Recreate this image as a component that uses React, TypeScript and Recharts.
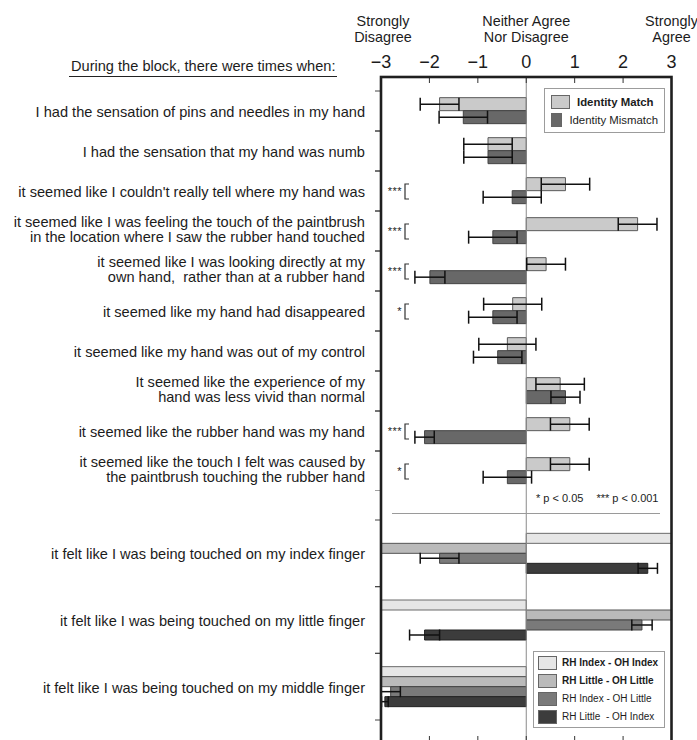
import React from 'react';
import { BarChart, Bar, XAxis, YAxis, ErrorBar, ReferenceLine, Legend } from 'recharts';

// ---------- data ----------
const statements = [
  'I had the sensation of pins and needles in my hand',
  'I had the sensation that my hand was numb',
  "it seemed like I couldn't really tell where my hand was",
  'it seemed like I was feeling the touch of the paintbrush\nin the location where I saw the rubber hand touched',
  'it seemed like I was looking directly at my\nown hand,  rather than at a rubber hand',
  'it seemed like my hand had disappeared',
  'it seemed like my hand was out of my control',
  'It seemed like the experience of my\nhand was less vivid than normal',
  'it seemed like the rubber hand was my hand',
  'it seemed like the touch I felt was caused by\nthe paintbrush touching the rubber hand',
];
const significance = ['', '', '***', '***', '***', '*', '', '', '***', '*'];
const matchMean = [-1.79, -0.79, 0.81, 2.3, 0.41, -0.28, -0.39, 0.7, 0.9, 0.9];
const matchErr = [0.4, 0.5, 0.5, 0.4, 0.4, 0.6, 0.59, 0.5, 0.4, 0.4];
const mismatchMean = [-1.3, -0.79, -0.29, -0.69, -1.99, -0.69, -0.59, 0.81, -2.1, -0.39];
const mismatchErr = [0.5, 0.5, 0.6, 0.5, 0.31, 0.5, 0.5, 0.3, 0.2, 0.5];
const blockSeries = ['Identity Match', 'Identity Mismatch'];

const fingerItems = [
  'it felt like I was being touched on my index finger',
  'it felt like I was being touched on my little finger',
  'it felt like I was being touched on my middle finger',
];
const rhIndexOhIndex = [3, -3, -3];
const rhLittleOhLittle = [-3, 3, -3];
const rhIndexOhLittle = [-1.79, 2.39, -2.8];
const rhIndexOhLittleErr = [0.4, 0.21, 0.2];
const rhLittleOhIndex = [2.51, -2.1, -2.92];
const rhLittleOhIndexErr = [0.2, 0.31, 0.07];
const fingerSeries = ['RH Index - OH Index', 'RH Little - OH Little', 'RH Index - OH Little', 'RH Little  - OH Index'];

const scaleTicks = [-3, -2, -1, 0, 1, 2, 3];
const scaleAnchors: Record<string, string[]> = {
  '-3': ['Strongly', 'Disagree'],
  '0': ['Neither Agree', 'Nor Disagree'],
  '3': ['Strongly', 'Agree'],
};
const headerText = 'During the block, there were times when:';
const pNotes = ['* p < 0.05', '*** p < 0.001'];

const blockData = statements.map((s, i) => ({
  statement: s,
  match: matchMean[i],
  matchErr: matchErr[i],
  mismatch: mismatchMean[i],
  mismatchErr: mismatchErr[i],
}));
const fingerData = fingerItems.map((s, i) => ({
  item: s,
  ii: rhIndexOhIndex[i],
  ll: rhLittleOhLittle[i],
  il: rhIndexOhLittle[i],
  ilErr: rhIndexOhLittleErr[i],
  li: rhLittleOhIndex[i],
  liErr: rhLittleOhIndexErr[i],
}));

// ---------- styles ----------
const FONT = '"Liberation Sans", Arial, Helvetica, sans-serif';
const TEXT = '#1c1c1c';

const CategoryTick = (props: any) => {
  const { x, y, payload, index, sigs, fallbackHalf } = props;
  const half = payload && typeof payload.offset === 'number' && payload.offset > 0 ? payload.offset : fallbackHalf;
  const lines = String(payload.value).split('\n');
  const lh = 15;
  const startY = y + 1 - ((lines.length - 1) * lh) / 2 - (lines.length > 1 ? 3 : 0);
  const sig = sigs ? sigs[index] : '';
  return (
    <g>
      <line x1={x + 10} x2={x + 16} y1={y - half} y2={y - half} stroke="#444" strokeWidth={1} />
      <line x1={x + 10} x2={x + 16} y1={y + half} y2={y + half} stroke="#444" strokeWidth={1} />
      <text x={x} y={startY} textAnchor="end" dominantBaseline="central" fontSize={14.6} fill={TEXT} style={{ whiteSpace: 'pre' }}>
        {lines.map((l, i) => (
          <tspan key={i} x={x} dy={i === 0 ? 0 : lh}>
            {l}
          </tspan>
        ))}
      </text>
      {sig ? (
        <text x={x + 37} y={y + 4} textAnchor="end" fontSize={11} fill={TEXT} letterSpacing={0.5}>
          {sig}
        </text>
      ) : null}
      {sig ? (
        <path d={`M${x + 44},${y - 7} H${x + 40} V${y + 8} H${x + 44}`} stroke="#333" strokeWidth={1.2} fill="none" />
      ) : null}
    </g>
  );
};

const ScaleTick = (props: any) => {
  const { x, y, payload } = props;
  const v = payload.value;
  const anchor = scaleAnchors[String(v)];
  const label = v < 0 ? `\u2212${Math.abs(v)}` : String(v);
  return (
    <g>
      {anchor
        ? anchor.map((t, i) => (
            <text key={i} x={x + (v < 0 ? 2 : 0)} y={y - 51 + i * 15.5} textAnchor="middle" fontSize={14.4} fill={TEXT}>
              {t}
            </text>
          ))
        : null}
      <text x={x} y={y - 9} textAnchor="middle" fontSize={18} fill={TEXT}>
        {label}
      </text>
    </g>
  );
};

const EmptyTick = () => <g />;

const makeLegend = (order: string[], boldCount: number, rowH: number, pad: string, fontSize: number, sw: number, sh: number, gap: number) =>
  (props: any) => {
    const items = [...(props.payload || [])].sort(
      (a: any, b: any) => order.indexOf(String(a.value)) - order.indexOf(String(b.value))
    );
    return (
      <div style={{ border: '1px solid #9c9c9c', background: '#fff', padding: pad, boxSizing: 'border-box', fontFamily: FONT }}>
        {items.map((it: any, i: number) => (
          <div key={i} style={{ display: 'flex', alignItems: 'center', height: rowH }}>
            <span
              style={{
                display: 'inline-block',
                width: sw,
                height: sh,
                background: it.color,
                border: '1px solid #666',
                boxSizing: 'border-box',
                marginRight: gap,
              }}
            />
            <span style={{ fontSize, fontWeight: i < boldCount ? 700 : 400, color: TEXT, whiteSpace: 'pre' }}>{it.value}</span>
          </div>
        ))}
      </div>
    );
  };

const legendA = makeLegend(blockSeries, 1, 18, '3.5px 6px', 11.4, 19, 14, 7);
const legendB = makeLegend(fingerSeries, 2, 18, '1.5px 4px', 10, 19, 14, 5);

export default function App() {
  return (
    <div
      style={{
        position: 'absolute',
        left: 0,
        top: 0,
        width: 697,
        height: 740,
        overflow: 'hidden',
        background: '#fff',
        fontFamily: FONT,
      }}
    >
      <div style={{ position: 'absolute', left: 0, top: 0 }}>
        <BarChart
          width={697}
          height={491}
          data={blockData}
          layout="vertical"
          margin={{ top: 47, right: 25.5, bottom: 0, left: 0 }}
          barCategoryGap="16.67%"
          barGap={0}
        >
          <XAxis
            type="number"
            orientation="top"
            domain={[-3, 3]}
            ticks={scaleTicks}
            interval={0}
            height={30}
            axisLine={false}
            tickSize={-6}
            tickMargin={6}
            tickLine={{ stroke: '#333' }}
            tick={<ScaleTick />}
            allowDataOverflow
          />
          <YAxis
            type="category"
            dataKey="statement"
            width={381}
            axisLine={false}
            tickLine={false}
            tickSize={0}
            tickMargin={16}
            interval={0}
            padding={{ top: 14, bottom: 0 }}
            tick={<CategoryTick sigs={significance} fallbackHalf={20} />}
          />
          <ReferenceLine x={0} stroke="#8a8a8a" strokeWidth={1} />
          <Legend
            layout="vertical"
            align="center"
            verticalAlign="middle"
            itemSorter={(item: any) => blockSeries.indexOf(String(item.value))}
            wrapperStyle={{ left: 544, top: 88, width: 121 }}
            content={legendA}
          />
          <Bar dataKey="match" name={blockSeries[0]} fill="#cacaca" stroke="#5a5a5a" strokeWidth={1} isAnimationActive={false}>
            <ErrorBar dataKey="matchErr" direction="x" width={6.5} stroke="#111" strokeWidth={1.5} />
          </Bar>
          <Bar dataKey="mismatch" name={blockSeries[1]} fill="#686868" stroke="#444" strokeWidth={1} isAnimationActive={false}>
            <ErrorBar dataKey="mismatchErr" direction="x" width={6.5} stroke="#111" strokeWidth={1.5} />
          </Bar>
        </BarChart>
      </div>

      <div style={{ position: 'absolute', left: 0, top: 491 }}>
        <BarChart
          width={697}
          height={260}
          data={fingerData}
          layout="vertical"
          margin={{ top: 0, right: 25.5, bottom: 0, left: 0 }}
          barCategoryGap="20%"
          barGap={0}
        >
          <XAxis
            type="number"
            orientation="bottom"
            domain={[-3, 3]}
            ticks={scaleTicks}
            interval={0}
            height={9}
            axisLine={false}
            tickSize={-6}
            tickMargin={0}
            tickLine={{ stroke: '#333' }}
            tick={<EmptyTick />}
            allowDataOverflow
          />
          <YAxis
            type="category"
            dataKey="item"
            width={381}
            axisLine={false}
            tickLine={false}
            tickSize={0}
            tickMargin={16}
            interval={0}
            padding={{ top: 29, bottom: 22 }}
            tick={<CategoryTick sigs={null} fallbackHalf={33.3} />}
          />
          <ReferenceLine x={0} stroke="#8a8a8a" strokeWidth={1} />
          <Legend
            layout="vertical"
            align="center"
            verticalAlign="middle"
            itemSorter={(item: any) => fingerSeries.indexOf(String(item.value))}
            wrapperStyle={{ left: 533, top: 160, width: 132 }}
            content={legendB}
          />
          <Bar dataKey="ii" name={fingerSeries[0]} fill="#e6e6e6" stroke="#6a6a6a" strokeWidth={1} isAnimationActive={false} />
          <Bar dataKey="ll" name={fingerSeries[1]} fill="#bababa" stroke="#555" strokeWidth={1} isAnimationActive={false} />
          <Bar dataKey="il" name={fingerSeries[2]} fill="#7a7a7a" stroke="#444" strokeWidth={1} isAnimationActive={false}>
            <ErrorBar dataKey="ilErr" direction="x" width={5.5} stroke="#111" strokeWidth={1.5} />
          </Bar>
          <Bar dataKey="li" name={fingerSeries[3]} fill="#3c3c3c" stroke="#222" strokeWidth={1} isAnimationActive={false}>
            <ErrorBar dataKey="liErr" direction="x" width={5.5} stroke="#111" strokeWidth={1.5} />
          </Bar>
        </BarChart>
      </div>

      <div
        style={{
          position: 'absolute',
          left: 69,
          top: 58,
          fontSize: 14.6,
          lineHeight: '17px',
          color: TEXT,
          padding: '0 2px 1px 2px',
          borderBottom: '1px solid #222',
          whiteSpace: 'nowrap',
        }}
      >
        {headerText}
      </div>

      <div
        style={{
          position: 'absolute',
          left: 536,
          top: 492,
          fontSize: 11,
          lineHeight: '13px',
          color: TEXT,
          whiteSpace: 'pre',
        }}
      >
        <span>{pNotes[0]}</span>
        <span style={{ marginLeft: 13 }}>{pNotes[1]}</span>
      </div>

      <svg width={697} height={740} style={{ position: 'absolute', left: 0, top: 0, pointerEvents: 'none' }}>
        <line x1={392} x2={660} y1={513.5} y2={513.5} stroke="#9a9a9a" strokeWidth={1} />
        <rect x={381} y={77} width={290.5} height={665} fill="none" stroke="#1f1f1f" strokeWidth={2.6} />
      </svg>
    </div>
  );
}
